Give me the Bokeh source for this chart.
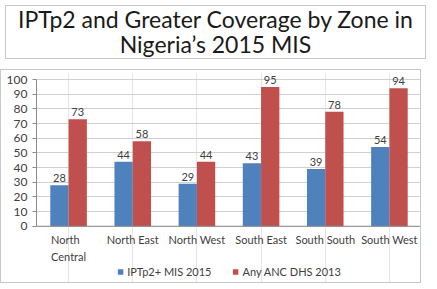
from bokeh.plotting import figure
from bokeh.models import (ColumnDataSource, FactorRange, Range1d, LabelSet, Legend, LegendItem,
                          FixedTicker, Span, Div)
from bokeh.transform import dodge
from bokeh.layouts import column
from bokeh.core.properties import value
from bokeh.embed import file_html
from bokeh.resources import INLINE

title_lines = ["IPTp2 and Greater Coverage by Zone in", "Nigeria\u2019s 2015 MIS"]
zones = ["North Central", "North East", "North West", "South East", "South South", "South West"]
zone_labels = ["North\nCentral", "North East", "North West", "South East", "South South", "South West"]
iptp2 = [28, 44, 29, 43, 39, 54]
anc = [73, 58, 44, 95, 78, 94]
series_names = ["IPTp2+ MIS 2015", "Any ANC DHS 2013"]
y_ticks = list(range(0, 101, 10))

FONT = "Lato"
BLUE = "#4F81BD"
RED = "#C0504D"
TXT = "#404040"
BORDER = "#c8c8c8"
AXIS = "#8a8a8a"

# ---- title box ----
title = Div(text="<br>".join(title_lines), width=421, height=54,
            styles={"border": "1px solid " + BORDER, "box-sizing": "border-box",
                    "text-align": "center", "font-family": FONT, "font-size": "23px",
                    "line-height": "25px", "color": "#1a1a1a", "padding-top": "1px"})

# ---- chart ----
src = ColumnDataSource(dict(zones=zones, zone_labels=zone_labels, zero=[0] * len(zones),
                            iptp2=iptp2, anc=anc,
                            iptp2_lbl=[str(v) for v in iptp2],
                            anc_lbl=[str(v) for v in anc]))

p = figure(width=421, height=214, x_range=FactorRange(*zones), y_range=Range1d(-39, 104.8),
           x_axis_location=None, output_backend="svg", toolbar_location=None,
           min_border_left=35, min_border_right=1, min_border_top=2, min_border_bottom=1)
p.outline_line_color = None
p.styles = {"border": "1px solid " + BORDER, "box-sizing": "border-box"}

bw = 0.285
b1 = p.vbar(x=dodge("zones", -bw / 2, range=p.x_range), top="iptp2", width=bw,
            source=src, fill_color=BLUE, line_color=None)
b2 = p.vbar(x=dodge("zones", bw / 2, range=p.x_range), top="anc", width=bw,
            source=src, fill_color=RED, line_color=None)

for col, off in (("iptp2", -bw / 2), ("anc", bw / 2)):
    p.add_layout(LabelSet(x=dodge("zones", off, range=p.x_range), y=col, text=col + "_lbl",
                          source=src, text_align="center", y_offset=3,
                          text_font=value(FONT), text_font_size="11px", text_color=TXT))

# category axis line and labels
p.add_layout(Span(location=0, dimension="width", line_color=AXIS, line_width=1))
p.add_layout(LabelSet(x="zones", y="zero", text="zone_labels", source=src,
                      text_align="center", text_baseline="top", y_offset=-7,
                      text_font=value(FONT), text_font_size="11px", text_color=TXT,
                      text_line_height=1.25))

p.yaxis.ticker = FixedTicker(ticks=y_ticks)
p.yaxis.bounds = (0, 100)
p.yaxis.minor_tick_line_color = None
p.yaxis.major_tick_in = 0
p.yaxis.major_tick_out = 4
p.yaxis.axis_line_color = AXIS
p.yaxis.major_tick_line_color = AXIS
p.yaxis.major_label_text_font = FONT
p.yaxis.major_label_text_font_size = "12px"
p.yaxis.major_label_text_color = TXT
p.yaxis.major_label_standoff = 5
p.ygrid.grid_line_color = "#d0d0d0"

legend = Legend(items=[LegendItem(label=series_names[0], renderers=[b1]),
                       LegendItem(label=series_names[1], renderers=[b2])],
                orientation="horizontal", location="bottom_center",
                glyph_width=7, glyph_height=7, spacing=20, padding=2, margin=5,
                label_text_font=FONT, label_text_font_size="11px", label_text_color=TXT,
                border_line_color=None, background_fill_alpha=0, label_standoff=4)
p.add_layout(legend)

layout = column(title, p, spacing=5)
open("out.html", "w").write(file_html(layout, INLINE))
